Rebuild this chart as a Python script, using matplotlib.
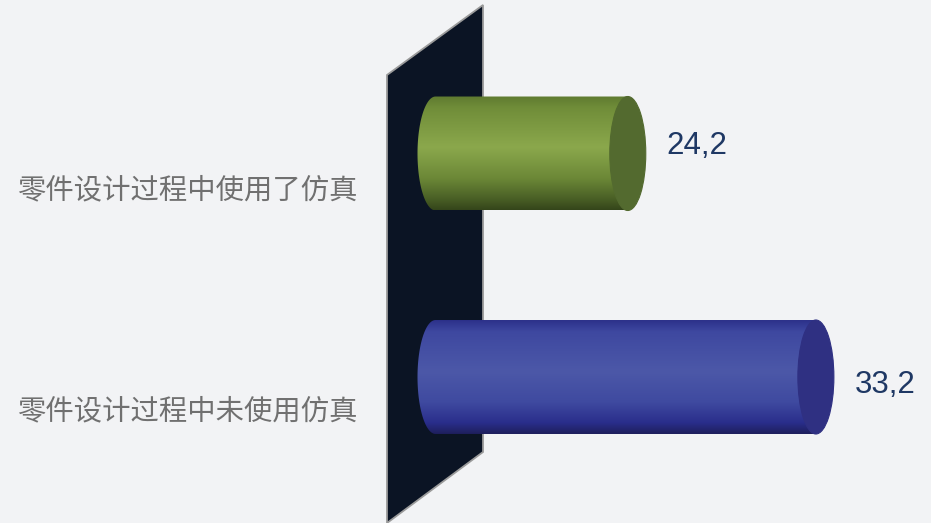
import numpy as np
import matplotlib
matplotlib.use("Agg")
import matplotlib.pyplot as plt
from matplotlib.colors import LinearSegmentedColormap
from matplotlib.patches import Ellipse, PathPatch, Polygon
from matplotlib.path import Path

categories = ["零件设计过程中使用了仿真", "零件设计过程中未使用仿真"]
values = [24.2, 33.2]
axis_min = 15.0

# body shading from top to bottom of each cylinder, plus end cap colour
body_stops = [
    ["#5f7a30", "#708d39", "#8ba84c", "#6c8837", "#4a6026", "#34451a"],
    ["#2c318a", "#3e48a0", "#4c58a8", "#3f4aa0", "#2a2e8c", "#1e1f5c"],
]
stop_pos = [0.0, 0.1, 0.45, 0.72, 0.9, 1.0]
cap_colors = ["#536a2f", "#2f3082"]

W, H = 931, 523
bg = "#f2f3f5"

fig = plt.figure(figsize=(W / 100, H / 100), dpi=100, facecolor=bg)
ax = fig.add_axes([0, 0, 1, 1])
ax.set_facecolor(bg)
ax.set_axis_off()

# value scale: 20.9 px per unit, zero at x=122 px
px_per = 20.9
x0 = 122
ax.set_xlim(-x0 / px_per, (W - x0) / px_per)
# category scale: rows 223.5 px apart, first row at y=153.5 px
row_px = 223.5
y0 = 153.5
ax.set_ylim((H - y0) / row_px, -y0 / row_px)

# back wall
wall_px = [(387, 75), (483, 5), (483, 452), (387, 523)]
wall = Polygon([(x / W, 1 - y / H) for x, y in wall_px], closed=True,
               transform=ax.transAxes, facecolor="#0b1424",
               edgecolor="#9a9a9a", lw=1.3, zorder=1)
ax.add_patch(wall)

bar_h = 0.51
rx = 18 / px_per  # half-width of end ellipses in data units

for i, (cat, v) in enumerate(zip(categories, values)):
    top, bot = i - bar_h / 2, i + bar_h / 2
    # body outline: left half-ellipse + rectangle to the value
    t = np.linspace(np.pi / 2, 3 * np.pi / 2, 60)
    ex = axis_min + rx * np.cos(t)
    ey = i - (bar_h / 2) * np.sin(t)
    verts = list(zip(ex, ey)) + [(v, bot), (v, top), (axis_min, top)]
    codes = [Path.MOVETO] + [Path.LINETO] * (len(verts) - 2) + [Path.CLOSEPOLY]
    body = PathPatch(Path(verts, codes), facecolor="none", edgecolor="none")
    ax.add_patch(body)

    cmap = LinearSegmentedColormap.from_list(
        "c%d" % i, list(zip(stop_pos, body_stops[i])))
    grad = np.linspace(0, 1, 256).reshape(-1, 1)
    im = ax.imshow(grad, cmap=cmap, aspect="auto", interpolation="bilinear",
                   extent=(axis_min - rx, v, bot, top), zorder=2)
    im.set_clip_path(body)

    cap = Ellipse((v, i), 2 * rx, bar_h, facecolor=cap_colors[i],
                  edgecolor=cap_colors[i], lw=0.8, zorder=3)
    ax.add_patch(cap)

    label = ("%.1f" % v).replace(".", ",")
    ax.annotate(label, xy=(v + rx, i), xytext=(21, 8 if i == 0 else -8),
                textcoords="offset pixels", ha="left", va="center",
                fontsize=22.5, color="#1f3864", family="Liberation Sans",
                zorder=4)

    ax.text(358 / W, 1 - (190 + i * 221) / H, cat, transform=ax.transAxes,
            ha="right", va="center", fontsize=20.4, color="#707070",
            family=["Noto Sans CJK SC", "DejaVu Sans"])

fig.savefig("out.png", dpi=100, facecolor=bg)
